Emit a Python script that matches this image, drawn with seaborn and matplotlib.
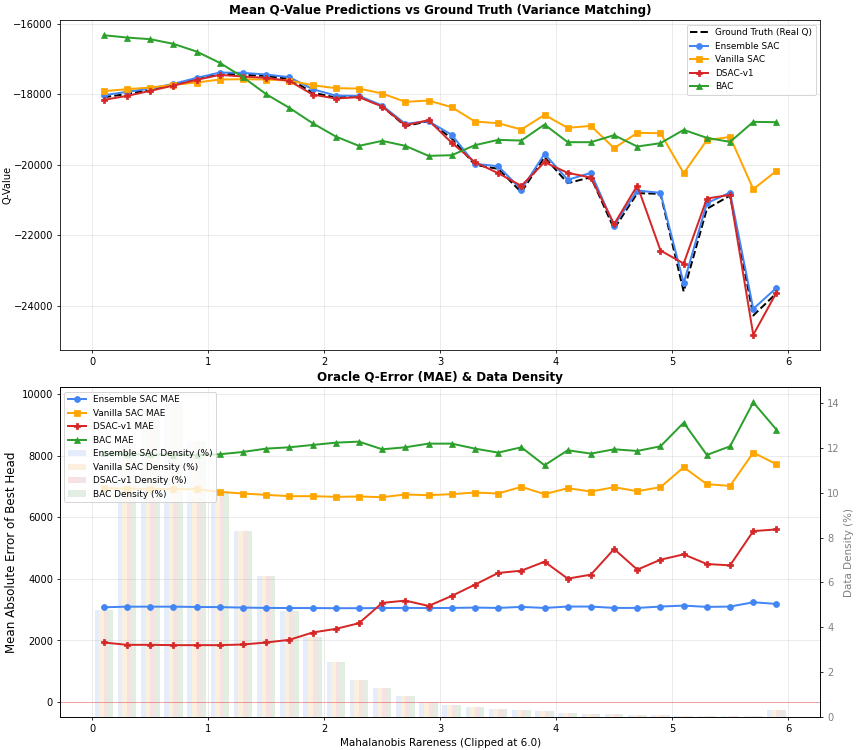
import pandas as pd
import matplotlib
matplotlib.use("Agg")
import matplotlib.pyplot as plt
import seaborn as sns

# Bin centres of Mahalanobis rareness
rareness = [0.1, 0.3, 0.5, 0.7, 0.9, 1.1, 1.3, 1.5, 1.7, 1.9,
            2.1, 2.3, 2.5, 2.7, 2.9, 3.1, 3.3, 3.5, 3.7, 3.9,
            4.1, 4.3, 4.5, 4.7, 4.9, 5.1, 5.3, 5.5, 5.7, 5.9]

# Mean Q-value predictions
q_ground_truth = [-18080, -17990, -17870, -17720, -17560, -17410, -17440, -17480, -17560, -17950,
                  -18090, -18060, -18340, -18900, -18760, -19250, -20000, -20113, -20775, -19782,
                  -20520, -20350, -21816, -20803, -20822, -23593, -21248, -20870, -24274, -23641]
q_ensemble_sac = [-18024, -17929, -17835, -17702, -17532, -17381, -17390, -17437, -17513, -17853,
                  -18033, -18043, -18317, -18837, -18761, -19149, -19972, -20038, -20700, -19688,
                  -20425, -20227, -21721, -20728, -20794, -23357, -21087, -20785, -24085, -23489]
q_vanilla_sac = [-17910, -17853, -17806, -17730, -17664, -17579, -17570, -17579, -17608, -17740,
                 -17825, -17835, -17976, -18213, -18175, -18364, -18771, -18818, -18998, -18582,
                 -18950, -18894, -19527, -19092, -19102, -20236, -19300, -19206, -20690, -20170]
q_dsac_v1 = [-18156, -18043, -17901, -17749, -17589, -17447, -17494, -17532, -17617, -18005,
             -18118, -18080, -18345, -18875, -18733, -19376, -19924, -20236, -20596, -19924,
             -20227, -20359, -21683, -20586, -22430, -22799, -20955, -20851, -24823, -23622]
q_bac = [-16322, -16388, -16435, -16567, -16785, -17106, -17513, -17995, -18383, -18818,
         -19196, -19461, -19319, -19461, -19745, -19726, -19442, -19291, -19310, -18856,
         -19357, -19357, -19158, -19480, -19385, -19007, -19234, -19348, -18780, -18790]

# Oracle MAE of best head
mae_ensemble_sac = [3080, 3100, 3100, 3100, 3090, 3085, 3070, 3060, 3055, 3055,
                    3050, 3050, 3055, 3060, 3055, 3059, 3070, 3059, 3092, 3059,
                    3103, 3103, 3059, 3059, 3103, 3135, 3092, 3103, 3243, 3189]
mae_vanilla_sac = [6950, 6940, 6930, 6920, 6920, 6832, 6778, 6735, 6692, 6692,
                   6670, 6681, 6659, 6746, 6724, 6757, 6811, 6778, 6995, 6757,
                   6951, 6843, 6984, 6854, 6984, 7632, 7081, 7027, 8108, 7730]
mae_dsac_v1 = [1935, 1859, 1859, 1849, 1849, 1849, 1870, 1935, 2022, 2259,
               2378, 2562, 3222, 3297, 3124, 3449, 3816, 4195, 4270, 4562,
               4011, 4141, 4973, 4303, 4627, 4800, 4486, 4443, 5557, 5611]
mae_bac = [8080, 8060, 8050, 8040, 8030, 8054, 8130, 8238, 8281, 8357,
           8432, 8465, 8216, 8281, 8400, 8400, 8238, 8108, 8281, 7697,
           8184, 8076, 8216, 8162, 8314, 9081, 8032, 8314, 9741, 8854]

# Data density per bin (%)
density = [4.75, 12.2, 13.9, 14.0, 12.3, 10.1, 8.3, 6.28, 4.74, 3.56,
           2.45, 1.66, 1.29, 0.94, 0.67, 0.52, 0.43, 0.36, 0.30, 0.25,
           0.19, 0.15, 0.13, 0.09, 0.07, 0.06, 0.03, 0.03, 0.04, 0.33]

algos = ["Ensemble SAC", "Vanilla SAC", "DSAC-v1", "BAC"]
colors = ["#4285F4", "#FFA500", "#D62728", "#2CA02C"]
markers = ["o", "s", "P", "^"]

q_values = [q_ensemble_sac, q_vanilla_sac, q_dsac_v1, q_bac]
mae_values = [mae_ensemble_sac, mae_vanilla_sac, mae_dsac_v1, mae_bac]

fig, (ax_top, ax1) = plt.subplots(2, 1, figsize=(12, 10.5), sharex=True)
fig.subplots_adjust(left=0.070, right=0.957, top=0.973, bottom=0.044, hspace=0.114)

# --- Top: mean Q-value vs ground truth ---
sns.lineplot(x=rareness, y=q_ground_truth, ax=ax_top, color="black", linestyle="--",
             linewidth=2, label="Ground Truth (Real Q)")
for name, col, mk, vals in zip(algos, colors, markers, q_values):
    sns.lineplot(x=rareness, y=vals, ax=ax_top, color=col, marker=mk, markersize=6,
                 markeredgecolor=col, linewidth=2, label=name)
ax_top.set_title("Mean Q-Value Predictions vs Ground Truth (Variance Matching)",
                 fontsize=12, fontweight="bold")
ax_top.set_ylabel("Q-Value", fontsize=10, labelpad=1)
ax_top.grid(True, alpha=0.3)
ax_top.legend(loc="upper right", fontsize=9)
ax_top.tick_params(labelbottom=True)

# --- Bottom: MAE lines + density bars ---
ax2 = ax1.twinx()
df_bars = pd.DataFrame({
    "x": rareness * len(algos),
    "density": density * len(algos),
    "label": [f"{a} Density (%)" for a in algos for _ in rareness],
})
sns.barplot(data=df_bars, x="x", y="density", hue="label", native_scale=True,
             palette=colors, alpha=0.15, errorbar=None, width=0.8, ax=ax2)
bar_leg = ax2.get_legend()
bar_handles = list(bar_leg.legend_handles)
bar_labels = [t.get_text() for t in bar_leg.get_texts()]
for h in bar_handles:
    h.set_alpha(0.15)
bar_leg.remove()
ax2.set_ylabel("Data Density (%)", color="gray", fontsize=10.5)
ax2.tick_params(axis="y", labelcolor="gray")

for name, col, mk, vals in zip(algos, colors, markers, mae_values):
    sns.lineplot(x=rareness, y=vals, ax=ax1, color=col, marker=mk, markersize=6,
                 markeredgecolor=col, linewidth=2, label=f"{name} MAE")
ax1.axhline(0, color="red", alpha=0.3, linewidth=1)
ax1.set_zorder(ax2.get_zorder() + 1)
ax1.patch.set_visible(False)
ax1.set_title("Oracle Q-Error (MAE) & Data Density", fontsize=12, fontweight="bold")
ax1.set_xlabel("Mahalanobis Rareness (Clipped at 6.0)", fontsize=10.5)
ax1.set_ylabel("Mean Absolute Error of Best Head", fontsize=12)
ax1.grid(True, alpha=0.3)

line_handles, line_labels = ax1.get_legend_handles_labels()
ax1.legend(line_handles + bar_handles, line_labels + bar_labels, loc="upper left", fontsize=9)

plt.savefig("out.png", dpi=71.43)
